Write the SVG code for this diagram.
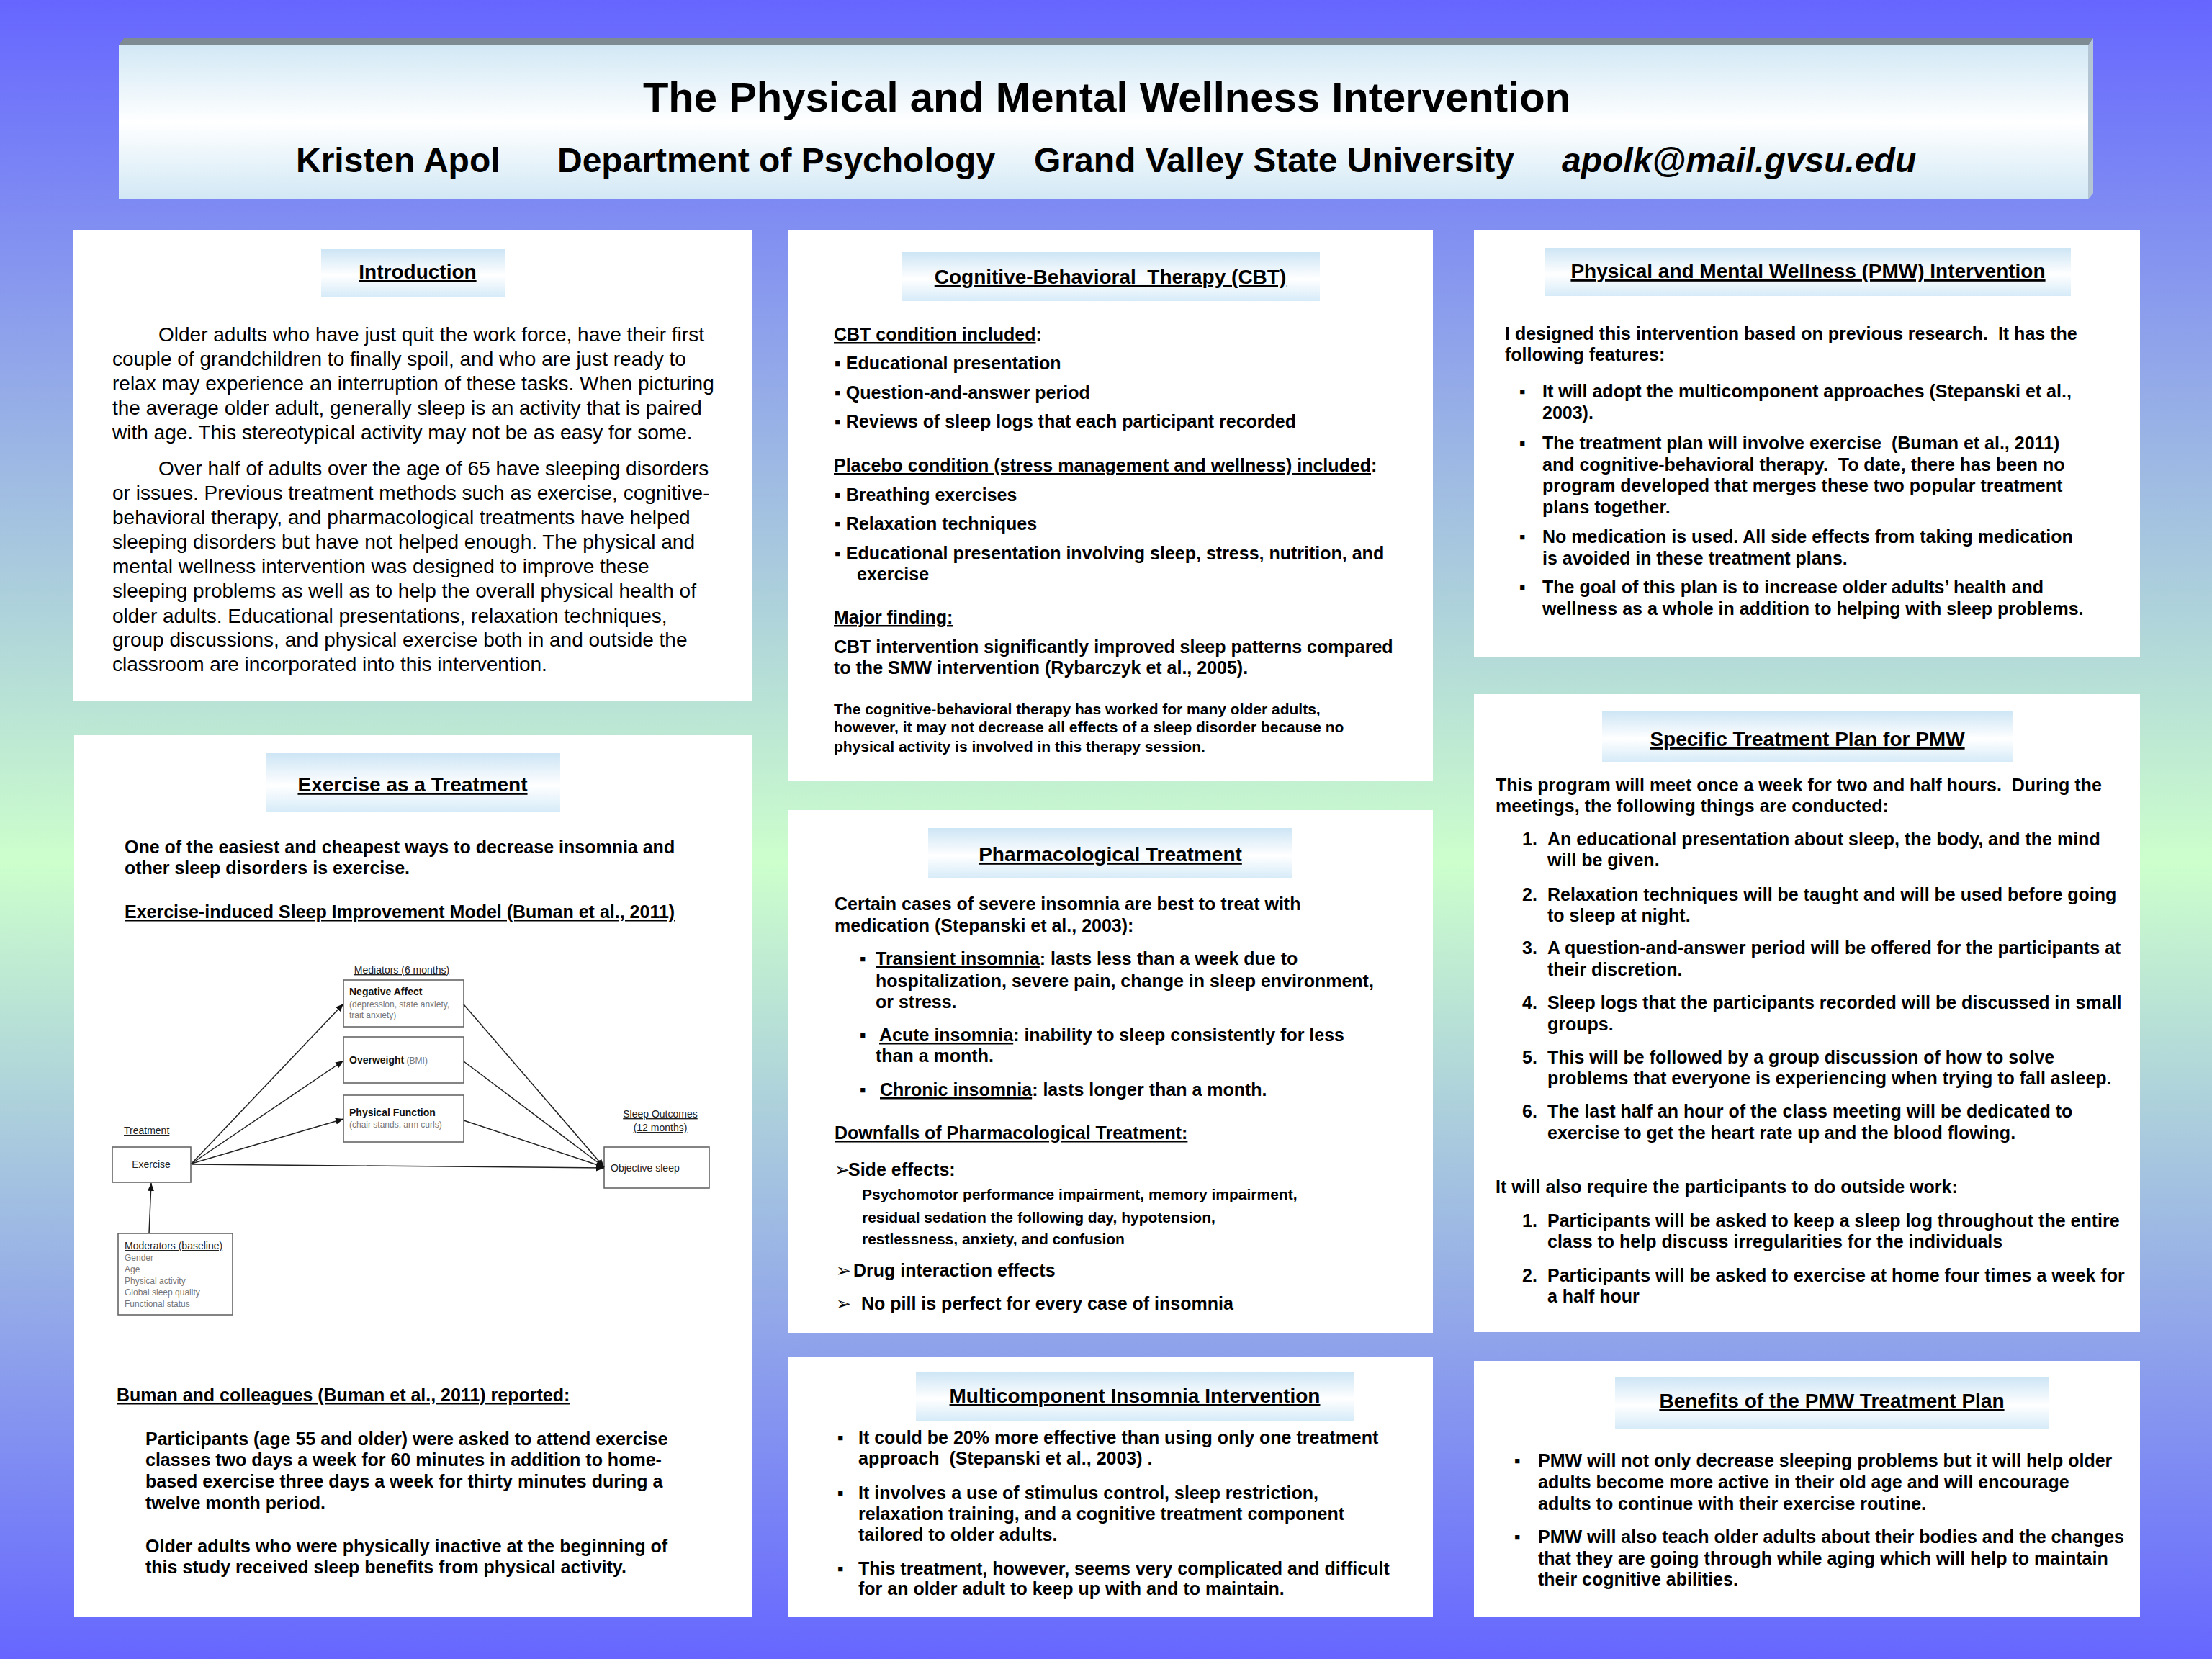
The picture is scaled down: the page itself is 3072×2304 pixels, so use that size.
<svg xmlns="http://www.w3.org/2000/svg" width="3072" height="2304" viewBox="0 0 3072 2304">
<defs>
<linearGradient id="bg" x1="0" y1="0" x2="0" y2="1">
<stop offset="0" stop-color="#6666ff"/>
<stop offset="0.52" stop-color="#ccffcc"/>
<stop offset="1" stop-color="#6666ff"/>
</linearGradient>
<linearGradient id="hb" x1="0" y1="0" x2="0" y2="1">
<stop offset="0" stop-color="#cde5f5"/>
<stop offset="0.55" stop-color="#ffffff"/>
<stop offset="1" stop-color="#d6ebf8"/>
</linearGradient>
<linearGradient id="tb" x1="0" y1="0" x2="0" y2="1">
<stop offset="0" stop-color="#d2e8f5"/>
<stop offset="0.5" stop-color="#ffffff"/>
<stop offset="1" stop-color="#d2e8f5"/>
</linearGradient>
<marker id="ah" markerUnits="userSpaceOnUse" markerWidth="12" markerHeight="10" refX="11" refY="4.5" orient="auto">
<path d="M0,0 L11,4.5 L0,9 z" fill="#111"/>
</marker>
<style>
text{font-family:"Liberation Sans",Arial,"DejaVu Sans",sans-serif;fill:#000}
.panel{fill:#ffffff}
.hbox{fill:url(#hb)}
.h{font-size:28px;font-weight:bold;text-decoration:underline;text-anchor:middle}
.b{font-size:25px;font-weight:bold}
.s{font-size:21px;font-weight:bold}
.r{font-size:28px}
.u{text-decoration:underline}
.ar{font-family:"DejaVu Sans",sans-serif;font-size:25px;font-weight:bold}
.dbox{fill:#ffffff;stroke:#666;stroke-width:1.6}
.dl{font-size:14px;fill:#222}
.dt{font-size:14px;font-weight:bold;fill:#111}
.dg{font-size:12px;fill:#777}
.conn{stroke:#222;stroke-width:1.5;fill:none;marker-end:url(#ah)}
</style>
</defs>
<rect x="0" y="0" width="3072" height="2304" fill="url(#bg)"/>

<g id="title-banner">
<polygon points="165,63 172,53 2907,53 2900,63" fill="#7f8b93"/>
<polygon points="2900,63 2907,53 2907,268 2900,277" fill="#b4c6d4"/>
<rect x="165" y="63" width="2735" height="214" fill="url(#tb)"/>
<text x="1537" y="155" font-size="58" font-weight="bold" text-anchor="middle">The Physical and Mental Wellness Intervention</text>
<text x="411" y="239" font-size="48" font-weight="bold">Kristen Apol</text>
<text x="774" y="239" font-size="48" font-weight="bold">Department of Psychology</text>
<text x="1436" y="239" font-size="48" font-weight="bold">Grand Valley State University</text>
<text x="2169" y="239" font-size="48" font-weight="bold" font-style="italic">apolk@mail.gvsu.edu</text>
</g>

<g id="introduction">
<rect class="panel" x="102" y="319" width="942" height="655"/>
<rect class="hbox" x="446" y="346" width="256" height="66"/>
<text class="h" x="580" y="387">Introduction</text>
<text class="r" x="220" y="474">Older adults who have just quit the work force, have their first</text>
<text class="r" x="156" y="508">couple of grandchildren to finally spoil, and who are just ready to</text>
<text class="r" x="156" y="542">relax may experience an interruption of these tasks. When picturing</text>
<text class="r" x="156" y="576">the average older adult, generally sleep is an activity that is paired</text>
<text class="r" x="156" y="610">with age. This stereotypical activity may not be as easy for some.</text>
<text class="r" x="220" y="660">Over half of adults over the age of 65 have sleeping disorders</text>
<text class="r" x="156" y="694">or issues. Previous treatment methods such as exercise, cognitive-</text>
<text class="r" x="156" y="728">behavioral therapy, and pharmacological treatments have helped</text>
<text class="r" x="156" y="762">sleeping disorders but have not helped enough. The physical and</text>
<text class="r" x="156" y="796">mental wellness intervention was designed to improve these</text>
<text class="r" x="156" y="830">sleeping problems as well as to help the overall physical health of</text>
<text class="r" x="156" y="865">older adults. Educational presentations, relaxation techniques,</text>
<text class="r" x="156" y="898">group discussions, and physical exercise both in and outside the</text>
<text class="r" x="156" y="932">classroom are incorporated into this intervention.</text>
</g>

<g id="exercise-treatment">
<rect class="panel" x="103" y="1021" width="941" height="1225"/>
<rect class="hbox" x="369" y="1046" width="409" height="82"/>
<text class="h" x="573" y="1099">Exercise as a Treatment</text>
<text class="b" x="173" y="1185">One of the easiest and cheapest ways to decrease insomnia and</text>
<text class="b" x="173" y="1214">other sleep disorders is exercise.</text>
<text class="b u" x="173" y="1275">Exercise-induced Sleep Improvement Model (Buman et al., 2011)</text>
<text class="b u" x="162" y="1946">Buman and colleagues (Buman et al., 2011) reported:</text>
<text class="b" x="202" y="2007">Participants (age 55 and older) were asked to attend exercise</text>
<text class="b" x="202" y="2036">classes two days a week for 60 minutes in addition to home-</text>
<text class="b" x="202" y="2066">based exercise three days a week for thirty minutes during a</text>
<text class="b" x="202" y="2096">twelve month period.</text>
<text class="b" x="202" y="2156">Older adults who were physically inactive at the beginning of</text>
<text class="b" x="202" y="2185">this study received sleep benefits from physical activity.</text>
</g>

<g id="model-labels">
<text class="dl u" x="558" y="1352" text-anchor="middle">Mediators (6 months)</text>
<text class="dl u" x="172" y="1575">Treatment</text>
<text class="dl u" x="917" y="1552" text-anchor="middle">Sleep Outcomes</text>
<text class="dl u" x="917" y="1571" text-anchor="middle">(12 months)</text>
</g>
<g id="node-negative-affect">
<rect class="dbox" x="477" y="1361" width="167" height="65"/>
<text class="dt" x="485" y="1382">Negative Affect</text>
<text class="dg" x="485" y="1399">(depression, state anxiety,</text>
<text class="dg" x="485" y="1414">trait anxiety)</text>
</g>
<g id="node-overweight">
<rect class="dbox" x="477" y="1440" width="167" height="64"/>
<text x="485" y="1477"><tspan class="dt">Overweight</tspan><tspan class="dg"> (BMI)</tspan></text>
</g>
<g id="node-physical-function">
<rect class="dbox" x="477" y="1521" width="167" height="65"/>
<text class="dt" x="485" y="1550">Physical Function</text>
<text class="dg" x="485" y="1566">(chair stands, arm curls)</text>
</g>
<g id="node-exercise">
<rect class="dbox" x="156" y="1593" width="109" height="49"/>
<text class="dl" x="210" y="1622" text-anchor="middle">Exercise</text>
</g>
<g id="node-objective-sleep">
<rect class="dbox" x="839" y="1593" width="146" height="57"/>
<text class="dl" x="848" y="1627">Objective sleep</text>
</g>
<g id="node-moderators">
<rect class="dbox" x="164" y="1713" width="159" height="113"/>
<text class="dl u" x="173" y="1735">Moderators (baseline)</text>
<text class="dg" x="173" y="1751" font-size="13">Gender</text>
<text class="dg" x="173" y="1767" font-size="13">Age</text>
<text class="dg" x="173" y="1783" font-size="13">Physical activity</text>
<text class="dg" x="173" y="1799" font-size="13">Global sleep quality</text>
<text class="dg" x="173" y="1815" font-size="13">Functional status</text>
</g>
<g id="connectors">
<line class="conn" x1="266" y1="1616" x2="477" y2="1394"/>
<line class="conn" x1="266" y1="1616" x2="477" y2="1473"/>
<line class="conn" x1="266" y1="1616" x2="477" y2="1554"/>
<line class="conn" x1="266" y1="1617" x2="839" y2="1622"/>
<line class="conn" x1="644" y1="1395" x2="839" y2="1621"/>
<line class="conn" x1="644" y1="1474" x2="839" y2="1621"/>
<line class="conn" x1="644" y1="1556" x2="839" y2="1621"/>
<line class="conn" x1="207" y1="1713" x2="210" y2="1643"/>
</g>

<g id="cbt">
<rect class="panel" x="1095" y="319" width="895" height="765"/>
<rect class="hbox" x="1252" y="350" width="581" height="68"/>
<text class="h" x="1542" y="394" xml:space="preserve">Cognitive-Behavioral  Therapy (CBT)</text>
<text class="b" x="1158" y="473"><tspan class="u">CBT condition included</tspan>:</text>
<text class="b" x="1159" y="513">▪ Educational presentation</text>
<text class="b" x="1159" y="554">▪ Question-and-answer period</text>
<text class="b" x="1159" y="594">▪ Reviews of sleep logs that each participant recorded</text>
<text class="b" x="1158" y="655"><tspan class="u">Placebo condition (stress management and wellness) included</tspan>:</text>
<text class="b" x="1159" y="696">▪ Breathing exercises</text>
<text class="b" x="1159" y="736">▪ Relaxation techniques</text>
<text class="b" x="1159" y="777">▪ Educational presentation involving sleep, stress, nutrition, and</text>
<text class="b" x="1190" y="806">exercise</text>
<text class="b u" x="1158" y="866">Major finding:</text>
<text class="b" x="1158" y="907">CBT intervention significantly improved sleep patterns compared</text>
<text class="b" x="1158" y="936">to the SMW intervention (Rybarczyk et al., 2005).</text>
<text class="s" x="1158" y="992">The cognitive-behavioral therapy has worked for many older adults,</text>
<text class="s" x="1158" y="1017">however, it may not decrease all effects of a sleep disorder because no</text>
<text class="s" x="1158" y="1044">physical activity is involved in this therapy session.</text>
</g>

<g id="pharmacological">
<rect class="panel" x="1095" y="1125" width="895" height="726"/>
<rect class="hbox" x="1289" y="1150" width="506" height="70"/>
<text class="h" x="1542" y="1196">Pharmacological Treatment</text>
<text class="b" x="1159" y="1264">Certain cases of severe insomnia are best to treat with</text>
<text class="b" x="1159" y="1294">medication (Stepanski et al., 2003):</text>
<text class="b" x="1194" y="1340">▪</text>
<text class="b" x="1216" y="1340"><tspan class="u">Transient insomnia</tspan>: lasts less than a week due to</text>
<text class="b" x="1216" y="1371">hospitalization, severe pain, change in sleep environment,</text>
<text class="b" x="1216" y="1400">or stress.</text>
<text class="b" x="1194" y="1446">▪</text>
<text class="b" x="1221" y="1446"><tspan class="u">Acute insomnia</tspan>: inability to sleep consistently for less</text>
<text class="b" x="1216" y="1475">than a month.</text>
<text class="b" x="1194" y="1522">▪</text>
<text class="b" x="1222" y="1522"><tspan class="u">Chronic insomnia</tspan>: lasts longer than a month.</text>
<text class="b u" x="1159" y="1582">Downfalls of Pharmacological Treatment:</text>
<text class="ar" x="1159" y="1633">➢</text>
<text class="b" x="1178" y="1633">Side effects:</text>
<text class="s" x="1197" y="1666">Psychomotor performance impairment, memory impairment,</text>
<text class="s" x="1197" y="1698">residual sedation the following day, hypotension,</text>
<text class="s" x="1197" y="1728">restlessness, anxiety, and confusion</text>
<text class="ar" x="1161" y="1773">➢</text>
<text class="b" x="1185" y="1773">Drug interaction effects</text>
<text class="ar" x="1161" y="1819">➢</text>
<text class="b" x="1196" y="1819">No pill is perfect for every case of insomnia</text>
</g>

<g id="multicomponent">
<rect class="panel" x="1095" y="1884" width="895" height="362"/>
<rect class="hbox" x="1272" y="1905" width="608" height="68"/>
<text class="h" x="1576" y="1948">Multicomponent Insomnia Intervention</text>
<text class="b" x="1163" y="2005">▪</text>
<text class="b" x="1192" y="2005">It could be 20% more effective than using only one treatment</text>
<text class="b" x="1192" y="2034" xml:space="preserve">approach  (Stepanski et al., 2003) .</text>
<text class="b" x="1163" y="2082">▪</text>
<text class="b" x="1192" y="2082">It involves a use of stimulus control, sleep restriction,</text>
<text class="b" x="1192" y="2111">relaxation training, and a cognitive treatment component</text>
<text class="b" x="1192" y="2140">tailored to older adults.</text>
<text class="b" x="1163" y="2187">▪</text>
<text class="b" x="1192" y="2187">This treatment, however, seems very complicated and difficult</text>
<text class="b" x="1192" y="2215">for an older adult to keep up with and to maintain.</text>
</g>

<g id="pmw-intervention">
<rect class="panel" x="2047" y="319" width="925" height="593"/>
<rect class="hbox" x="2146" y="344" width="730" height="67"/>
<text class="h" x="2511" y="386">Physical and Mental Wellness (PMW) Intervention</text>
<text class="b" x="2090" y="472" xml:space="preserve">I designed this intervention based on previous research.  It has the</text>
<text class="b" x="2090" y="501">following features:</text>
<text class="b" x="2110" y="552">▪</text>
<text class="b" x="2142" y="552">It will adopt the multicomponent approaches (Stepanski et al.,</text>
<text class="b" x="2142" y="582">2003).</text>
<text class="b" x="2110" y="624">▪</text>
<text class="b" x="2142" y="624" xml:space="preserve">The treatment plan will involve exercise  (Buman et al., 2011)</text>
<text class="b" x="2142" y="654" xml:space="preserve">and cognitive-behavioral therapy.  To date, there has been no</text>
<text class="b" x="2142" y="683">program developed that merges these two popular treatment</text>
<text class="b" x="2142" y="713">plans together.</text>
<text class="b" x="2110" y="754">▪</text>
<text class="b" x="2142" y="754">No medication is used. All side effects from taking medication</text>
<text class="b" x="2142" y="784">is avoided in these treatment plans.</text>
<text class="b" x="2110" y="824">▪</text>
<text class="b" x="2142" y="824">The goal of this plan is to increase older adults’ health and</text>
<text class="b" x="2142" y="854">wellness as a whole in addition to helping with sleep problems.</text>
</g>

<g id="specific-plan">
<rect class="panel" x="2047" y="964" width="925" height="886"/>
<rect class="hbox" x="2225" y="987" width="570" height="71"/>
<text class="h" x="2510" y="1036">Specific Treatment Plan for PMW</text>
<text class="b" x="2077" y="1099" xml:space="preserve">This program will meet once a week for two and half hours.  During the</text>
<text class="b" x="2077" y="1128">meetings, the following things are conducted:</text>
<text class="b" x="2114" y="1174">1.</text>
<text class="b" x="2149" y="1174">An educational presentation about sleep, the body, and the mind</text>
<text class="b" x="2149" y="1203">will be given.</text>
<text class="b" x="2114" y="1251">2.</text>
<text class="b" x="2149" y="1251">Relaxation techniques will be taught and will be used before going</text>
<text class="b" x="2149" y="1280">to sleep at night.</text>
<text class="b" x="2114" y="1325">3.</text>
<text class="b" x="2149" y="1325">A question-and-answer period will be offered for the participants at</text>
<text class="b" x="2149" y="1355">their discretion.</text>
<text class="b" x="2114" y="1401">4.</text>
<text class="b" x="2149" y="1401">Sleep logs that the participants recorded will be discussed in small</text>
<text class="b" x="2149" y="1431">groups.</text>
<text class="b" x="2114" y="1477">5.</text>
<text class="b" x="2149" y="1477">This will be followed by a group discussion of how to solve</text>
<text class="b" x="2149" y="1506">problems that everyone is experiencing when trying to fall asleep.</text>
<text class="b" x="2114" y="1552">6.</text>
<text class="b" x="2149" y="1552">The last half an hour of the class meeting will be dedicated to</text>
<text class="b" x="2149" y="1582">exercise to get the heart rate up and the blood flowing.</text>
<text class="b" x="2077" y="1657">It will also require the participants to do outside work:</text>
<text class="b" x="2114" y="1704">1.</text>
<text class="b" x="2149" y="1704">Participants will be asked to keep a sleep log throughout the entire</text>
<text class="b" x="2149" y="1733">class to help discuss irregularities for the individuals</text>
<text class="b" x="2114" y="1780">2.</text>
<text class="b" x="2149" y="1780">Participants will be asked to exercise at home four times a week for</text>
<text class="b" x="2149" y="1809">a half hour</text>
</g>

<g id="benefits">
<rect class="panel" x="2047" y="1890" width="925" height="356"/>
<rect class="hbox" x="2243" y="1912" width="603" height="72"/>
<text class="h" x="2544" y="1955">Benefits of the PMW Treatment Plan</text>
<text class="b" x="2103" y="2037">▪</text>
<text class="b" x="2136" y="2037">PMW will not only decrease sleeping problems but it will help older</text>
<text class="b" x="2136" y="2067">adults become more active in their old age and will encourage</text>
<text class="b" x="2136" y="2097">adults to continue with their exercise routine.</text>
<text class="b" x="2103" y="2143">▪</text>
<text class="b" x="2136" y="2143">PMW will also teach older adults about their bodies and the changes</text>
<text class="b" x="2136" y="2173">that they are going through while aging which will help to maintain</text>
<text class="b" x="2136" y="2202">their cognitive abilities.</text>
</g>
</svg>
